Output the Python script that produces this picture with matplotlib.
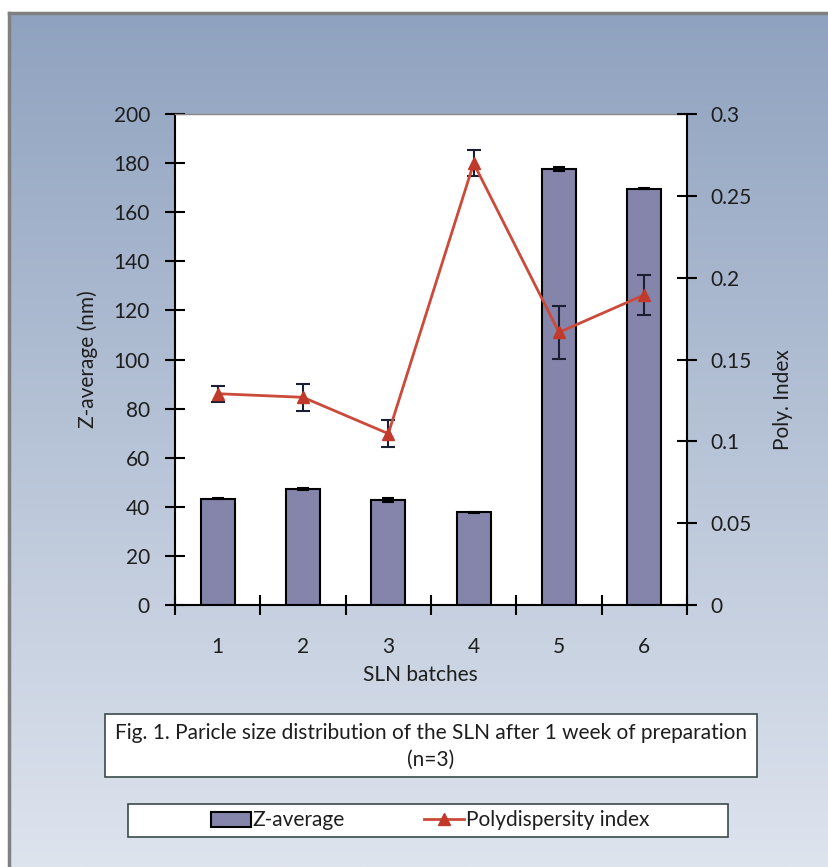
import numpy as np
import matplotlib
matplotlib.use("Agg")
import matplotlib.pyplot as plt
from matplotlib.patches import Rectangle

plt.rcParams['font.family'] = ['Lato', 'DejaVu Sans']

# ---- data ----
batches = ["1", "2", "3", "4", "5", "6"]
z_average = [43.3, 47.3, 42.8, 37.8, 177.5, 169.6]
z_err = [0.2, 0.3, 0.9, 0.2, 0.8, 0.3]
pdi = [0.1291, 0.1269, 0.1047, 0.2699, 0.1666, 0.1895]
pdi_err = [0.0049, 0.0081, 0.0081, 0.0079, 0.0161, 0.0122]
left_ticks = [0, 20, 40, 60, 80, 100, 120, 140, 160, 180, 200]
right_ticks = [0, 0.05, 0.1, 0.15, 0.2, 0.25, 0.3]
right_labels = ["0", "0.05", "0.1", "0.15", "0.2", "0.25", "0.3"]

FS = 15
TXT = "#1e1e1e"

W, H = 829, 867
fig = plt.figure(figsize=(W / 100, H / 100), dpi=100)
fig.patch.set_facecolor("white")

def fx(px):
    return px / W

def fy(py):
    return 1 - py / H

# ---- gradient background panel ----
bg = fig.add_axes([fx(9), 0, 1 - fx(9), fy(13)])
top_c = np.array([143, 162, 191]) / 255
bot_c = np.array([222, 228, 238]) / 255
t = np.linspace(0, 1, 256)[:, None]
grad = top_c[None, :] * (1 - t) + bot_c[None, :] * t
bg.imshow(grad[:, None, :], aspect="auto", extent=[0, 1, 0, 1], interpolation="bilinear")
bg.set_xticks([])
bg.set_yticks([])
for s in ["right", "bottom"]:
    bg.spines[s].set_visible(False)
for s in ["left", "top"]:
    bg.spines[s].set_color("#808080")
    bg.spines[s].set_linewidth(2.5)
bg.set_zorder(-10)

# ---- main axes ----
ax = fig.add_axes([fx(175), fy(605), (687 - 175) / W, (605 - 114) / H])
ax.set_facecolor("white")
x = np.arange(1, len(batches) + 1)
bars = ax.bar(x, z_average, width=0.4, color="#8584aa", edgecolor="black",
              linewidth=1.5, label="Z-average", zorder=2)
ax.errorbar(x, z_average, yerr=z_err, fmt="none", ecolor="black",
            elinewidth=1.5, capsize=4, capthick=1.5, zorder=3)
ax.set_xlim(0.5, len(batches) + 0.5)
ax.set_ylim(0, 200)
ax.set_yticks(left_ticks)
ax.set_xticks(np.arange(0.5, len(batches) + 1, 1.0))
ax.set_xticklabels([])
ax.set_xticks(x, minor=True)
ax.set_xticklabels(batches, minor=True)
ax.tick_params(axis="x", which="major", direction="inout", length=14, width=1.5)
ax.tick_params(axis="x", which="minor", length=0, pad=23, labelsize=FS, labelcolor=TXT)
ax.tick_params(axis="y", direction="inout", length=14, width=1.5, pad=11,
               labelsize=FS, labelcolor=TXT)
for s in ["left", "bottom"]:
    ax.spines[s].set_linewidth(1.5)
    ax.spines[s].set_color("black")
ax.spines["top"].set_color("#888888")
ax.spines["top"].set_linewidth(1.0)
ax.spines["right"].set_visible(False)

ax.set_xlabel("SLN batches", fontsize=FS, color=TXT)
ax.xaxis.set_label_coords((420 - 175) / 512, (605 - 675) / 491)
ax.xaxis.label.set_va("center")
ax.set_ylabel("Z-average (nm)", fontsize=FS, color=TXT)
ax.yaxis.set_label_coords((88 - 175) / 512, 0.5)
ax.yaxis.label.set_va("center")

# ---- secondary axis ----
ax2 = ax.twinx()
ax2.errorbar(x, pdi, yerr=pdi_err, fmt="none", ecolor="#1a1f33",
             elinewidth=1.5, capsize=5, capthick=1.5, zorder=2)
line, = ax2.plot(x, pdi, color="#cc4a3a", lw=2, marker="^", markersize=8.5,
                 markeredgecolor="#c0392b", markerfacecolor="#c0392b",
                 label="Polydispersity index", zorder=3)
ax2.set_ylim(0, 0.3)
ax2.set_yticks(right_ticks)
ax2.set_yticklabels(right_labels)
ax2.tick_params(axis="y", direction="inout", length=14, width=1.5, pad=10,
                labelsize=FS, labelcolor=TXT)
ax2.spines["right"].set_linewidth(1.5)
ax2.spines["right"].set_color("black")
ax2.spines["top"].set_visible(False)
ax2.spines["left"].set_visible(False)
ax2.spines["bottom"].set_visible(False)
ax2.set_ylabel("Poly. Index", fontsize=FS, color=TXT)
ax2.yaxis.set_label_coords((783 - 175) / 512, (605 - 400) / 491)
ax2.yaxis.label.set_va("center")
ax2.yaxis.label.set_rotation(90)

# ---- caption box ----
fig.add_artist(Rectangle((fx(105), fy(777)), (757 - 105) / W, (777 - 714) / H,
                         transform=fig.transFigure, facecolor="white",
                         edgecolor="#3a4a4a", linewidth=1.2))
fig.text(fx(431), fy(733), "Fig. 1. Paricle size distribution of the SLN after 1 week of preparation",
         ha="center", va="center", fontsize=FS, color=TXT)
fig.text(fx(431), fy(760), "(n=3)", ha="center", va="center", fontsize=FS, color=TXT)

# ---- legend box ----
fig.add_artist(Rectangle((fx(128), fy(837)), (728 - 128) / W, (837 - 804) / H,
                         transform=fig.transFigure, facecolor="white",
                         edgecolor="#3a4a4a", linewidth=1.2))
fig.legend([bars, line], ["Z-average", "Polydispersity index"], loc="center",
           bbox_to_anchor=(fx(430), fy(820.5)), ncol=2, frameon=False,
           fontsize=FS, handlelength=1.9, handletextpad=0.1, columnspacing=3.8,
           labelcolor=TXT)

fig.savefig("out.png", dpi=100)
